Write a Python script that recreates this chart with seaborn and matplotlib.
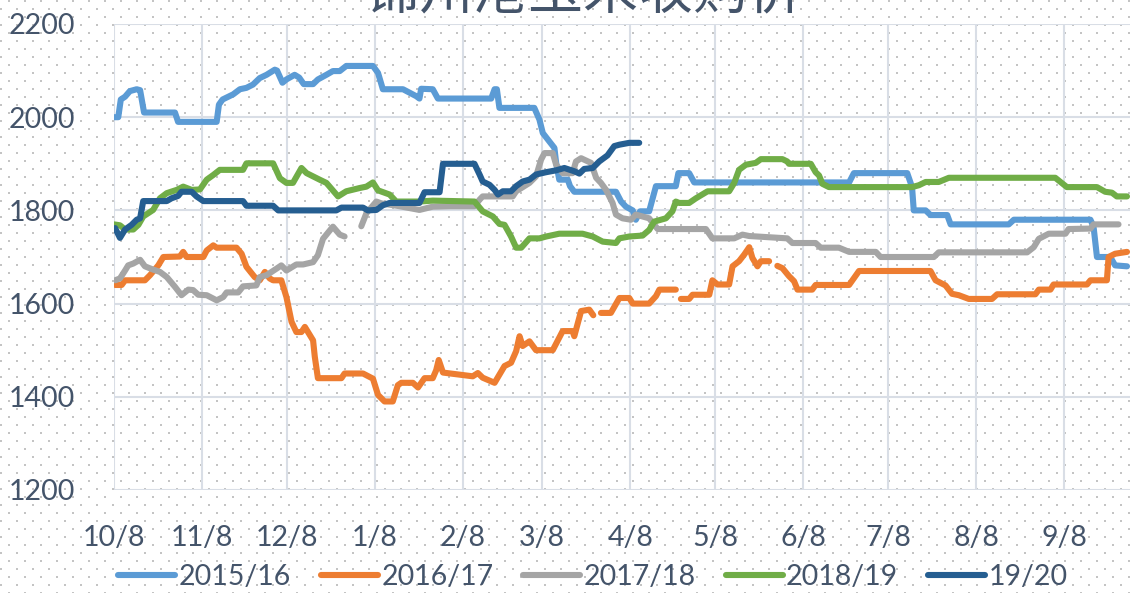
import numpy as np
import pandas as pd
import matplotlib
matplotlib.use("Agg")
import matplotlib.pyplot as plt
from matplotlib.lines import Line2D
import seaborn as sns

# ---------------- data ----------------
TITLE = "锦州港玉米收购价"
SEASONS = ["2015/16", "2016/17", "2017/18", "2018/19", "19/20"]
COLORS = ["#5B9BD5", "#ED7D31", "#A5A5A5", "#70AD47", "#255E91"]
TICK_DATES = ["2018-10-08", "2018-11-08", "2018-12-08", "2019-01-08", "2019-02-08",
              "2019-03-08", "2019-04-08", "2019-05-08", "2019-06-08", "2019-07-08",
              "2019-08-08", "2019-09-08"]
TICK_LABELS = ["10/8", "11/8", "12/8", "1/8", "2/8", "3/8", "4/8", "5/8", "6/8",
               "7/8", "8/8", "9/8"]
Y_TICKS = [1200, 1400, 1600, 1800, 2000, 2200]

# (days after 10/8, price); None marks a gap in the series
S_2015_16 = [(0, 2000), (1.5, 2000), (2.4, 2038), (3.9, 2044), (5.6, 2056), (8, 2060),
             (9.2, 2058), (10.6, 2010), (21.5, 2010), (22.6, 1990), (36.2, 1990), (37, 2027),
             (38.3, 2038), (42, 2049), (44.4, 2060), (46.7, 2063), (49, 2070), (51.4, 2084),
             (53.8, 2091), (56.7, 2102), (57.5, 2100), (59.4, 2074), (60.8, 2081), (63.7, 2091),
             (65.3, 2085), (66.9, 2071), (70.2, 2071), (71.9, 2081), (74.9, 2091), (77.2, 2099),
             (79.6, 2099), (81.9, 2110), (91.3, 2110), (93.1, 2095), (94.8, 2060), (101.9, 2060),
             (106.6, 2045), (107.7, 2040), (108.3, 2061), (112.4, 2060), (114.2, 2040),
             (133, 2040), (134.2, 2060), (135, 2060), (135.9, 2020), (148.2, 2020), (150, 1995),
             (151.2, 1966), (153.5, 1948), (155.3, 1934), (155.9, 1902), (157, 1866),
             (160, 1866), (160.8, 1852), (162.3, 1840), (177, 1840), (178.8, 1819),
             (180.5, 1808), (182.9, 1800), (184, 1780), (185.5, 1798), (188.7, 1798),
             (191.1, 1852), (198.1, 1852), (199, 1880), (202.8, 1880), (204.6, 1860),
             (259.2, 1860), (260.9, 1880), (279.7, 1880), (281.4, 1850), (282, 1800),
             (286.2, 1800), (287.9, 1790), (293.8, 1790), (295, 1770), (315.5, 1770),
             (317.3, 1780), (344.3, 1780), (345.4, 1765), (346.6, 1700), (351.3, 1700),
             (353, 1682), (357.2, 1680)]

S_2016_17 = [(0.4, 1640), (2.7, 1640), (3.9, 1650), (10.9, 1650), (12.7, 1661), (15.6, 1682),
             (17.4, 1700), (23.2, 1701), (24.4, 1711), (25.6, 1700), (31.5, 1700), (32.7, 1714),
             (35, 1725), (36.2, 1720), (43.2, 1720), (45, 1707), (46.7, 1679), (49.6, 1657),
             (51.4, 1650), (53.2, 1668), (54.9, 1654), (56.1, 1650), (59, 1650), (60.8, 1614),
             (62.6, 1561), (64.3, 1539), (66.1, 1539), (67.3, 1550), (70.2, 1521), (70.8, 1486),
             (71.9, 1440), (80.2, 1440), (81.3, 1450), (87.8, 1450), (91.3, 1439), (93.1, 1404),
             (95.4, 1390), (98.3, 1390), (100.1, 1425), (101.3, 1430), (105.4, 1430),
             (107.2, 1420), (109.5, 1440), (112.4, 1440), (113.6, 1457), (114.5, 1479),
             (116, 1452), (126.5, 1444), (128.3, 1451), (130, 1441), (134.2, 1430),
             (137.7, 1466), (140, 1473), (141.8, 1498), (143, 1530), (144.1, 1509),
             (146.5, 1519), (148.8, 1500), (154.7, 1500), (158.2, 1541), (161.7, 1541),
             (162.3, 1530), (164.7, 1584), (167.6, 1587), (169, 1575), (None, None),
             (171.7, 1580), (175.2, 1580), (178.2, 1612), (181.7, 1612), (182.9, 1600),
             (188.7, 1600), (191.1, 1616), (192.3, 1630), (198.1, 1630), (None, None),
             (199.9, 1610), (202.8, 1610), (204, 1619), (209.9, 1619), (211, 1650),
             (212.8, 1641), (216.9, 1641), (218.1, 1680), (220.4, 1691), (222.2, 1705),
             (224, 1721), (225.1, 1698), (226.9, 1680), (228.1, 1691), (231, 1691), (None, None),
             (233.9, 1681), (235.7, 1676), (238, 1659), (239.8, 1648), (241, 1630),
             (246.2, 1630), (247.4, 1640), (259.2, 1640), (262.7, 1670), (287.9, 1670),
             (289.7, 1650), (293.2, 1639), (295.5, 1621), (297.9, 1618), (301.4, 1610),
             (309.6, 1610), (311.4, 1620), (324.9, 1620), (326.1, 1630), (330.2, 1630),
             (331.3, 1641), (343.1, 1641), (344.3, 1650), (350.1, 1650), (350.7, 1700),
             (353, 1707), (357.2, 1711)]

S_2017_18 = [(0.4, 1650), (2.1, 1654), (3.9, 1671), (5, 1682), (6.8, 1686), (9.2, 1694),
             (10.9, 1680), (13.8, 1673), (16.2, 1668), (18.6, 1657), (21.5, 1636), (23.8, 1618),
             (26.2, 1630), (27.9, 1629), (29.7, 1619), (32.7, 1618), (36.2, 1607), (38.5, 1614),
             (39.7, 1624), (43.8, 1624), (45.5, 1637), (50.2, 1639), (51.4, 1657), (53.8, 1661),
             (57.3, 1675), (59, 1682), (60.8, 1671), (64.3, 1684), (66.7, 1684), (70.2, 1689),
             (71.9, 1704), (73.7, 1739), (76.1, 1757), (77.2, 1765), (79.6, 1748), (81.3, 1744),
             (None, None),
             (87.2, 1766), (89, 1794), (92.5, 1819), (94.3, 1815), (100.7, 1809), (107.7, 1801),
             (112.4, 1808), (118.3, 1809), (127.1, 1809), (128.9, 1823), (130, 1830),
             (140.6, 1830), (141.8, 1841), (146.5, 1859), (148.8, 1873), (150.6, 1909),
             (151.8, 1923), (154.7, 1923), (155.9, 1898), (158.2, 1880), (161.7, 1880),
             (162.9, 1905), (164.7, 1912), (168.2, 1902), (170, 1870), (171.7, 1859),
             (173.5, 1844), (175.8, 1816), (177, 1791), (179.3, 1783), (182.3, 1780),
             (184, 1791), (188.7, 1783), (191.7, 1760), (208.7, 1760), (211, 1740),
             (218.7, 1740), (221.6, 1748), (224, 1745), (237.4, 1740), (239.2, 1730),
             (247.4, 1730), (249.2, 1720), (255.6, 1720), (259.2, 1711), (268.6, 1711),
             (270.3, 1700), (289.1, 1700), (290.8, 1710), (322, 1710), (324.3, 1721),
             (326.1, 1739), (329.6, 1750), (335.5, 1750), (336.6, 1760), (344.3, 1761),
             (345.4, 1770), (354.2, 1770)]

S_2018_19 = [(0, 1770), (2.1, 1768), (3.9, 1759), (6.8, 1759), (8.6, 1769), (10.3, 1787),
             (13.8, 1801), (16.2, 1826), (18.6, 1837), (22.1, 1844), (24.4, 1851), (27.4, 1844),
             (30.3, 1845), (32.7, 1866), (35, 1876), (37.3, 1887), (45.5, 1887), (46.7, 1901),
             (56.1, 1901), (58.5, 1869), (60.8, 1859), (63.1, 1859), (66.1, 1891), (67.9, 1880),
             (72.5, 1866), (74.9, 1859), (79, 1830), (81.9, 1841), (86.6, 1848), (89, 1851),
             (91.3, 1860), (93.1, 1843), (97.2, 1834), (99.5, 1819), (107.7, 1819),
             (112.4, 1821), (127.1, 1819), (130, 1798), (133.6, 1787), (135.9, 1771),
             (137.7, 1769), (140, 1744), (141.8, 1720), (143.6, 1720), (146.5, 1740),
             (150, 1740), (152.4, 1744), (157, 1750), (165.2, 1750), (168.8, 1744),
             (172.3, 1733), (177, 1730), (178.2, 1740), (181.7, 1744), (186.4, 1746),
             (188.7, 1758), (190.5, 1776), (194.6, 1783), (196.9, 1798), (198.1, 1819),
             (199.3, 1816), (202.8, 1816), (205.2, 1826), (209.3, 1841), (216.9, 1841),
             (218.7, 1859), (220.4, 1887), (222.8, 1898), (226.3, 1902), (228.1, 1910),
             (235.7, 1910), (237.4, 1905), (238, 1900), (245.7, 1900), (247.4, 1882),
             (248.6, 1875), (249.8, 1857), (252.1, 1850), (281.4, 1850), (283.8, 1854),
             (286.2, 1861), (290.8, 1861), (294.4, 1870), (331.9, 1870), (336, 1850),
             (346.6, 1850), (349.5, 1840), (351.9, 1838), (353.6, 1830), (357.2, 1830)]

S_19_20 = [(0.4, 1762), (2.1, 1741), (3.9, 1759), (6.2, 1769), (8, 1780), (9.2, 1783),
           (10.3, 1820), (18.6, 1820), (20.3, 1826), (22.6, 1831), (23.8, 1840), (27.4, 1840),
           (29.1, 1830), (31.5, 1820), (45.5, 1820), (46.7, 1810), (56.1, 1810), (57.9, 1800),
           (78.4, 1800), (80.2, 1806), (87.8, 1806), (89.5, 1800), (92.5, 1801), (94.8, 1811),
           (97.2, 1816), (107.7, 1816), (109.5, 1839), (114.8, 1839), (116, 1900),
           (127.1, 1900), (128.9, 1877), (130, 1862), (132.4, 1855), (134.2, 1844),
           (135.4, 1834), (137.1, 1841), (140, 1841), (141.8, 1852), (144.1, 1862),
           (146.5, 1866), (148.8, 1877), (152.4, 1882), (155.9, 1886), (158.8, 1891),
           (162.3, 1884), (164.1, 1879), (165.8, 1889), (168.8, 1891), (171.1, 1905),
           (174, 1918), (176.4, 1938), (178.2, 1941), (181.7, 1945), (185.2, 1945)]

SERIES = [S_2015_16, S_2016_17, S_2017_18, S_2018_19, S_19_20]

# ---------------- build long table ----------------
rows = []
for name, pts in zip(SEASONS, SERIES):
    seg = 0
    for d, v in pts:
        if v is None:
            seg += 1
            continue
        rows.append((name, f"{name}_{seg}", d, v))
df = pd.DataFrame(rows, columns=["season", "unit", "day", "price"])

# ---------------- style ----------------
sns.set_theme(style="white")
plt.rcParams["font.family"] = ["Lato", "DejaVu Sans"]
TXT = "#44546A"
GRID = "#D9DEE6"
LW = 4.4

W, H = 1130, 593
fig = plt.figure(figsize=(W / 100, H / 100), dpi=100)
fig.patch.set_facecolor("white")

# dotted background pattern
bg = fig.add_axes([0, 0, 1, 1], zorder=-10)
bg.set_xlim(0, W)
bg.set_ylim(H, 0)
bg.axis("off")
gy = np.arange(0.7, H, 8.0)
px, py = [], []
for i, yy in enumerate(gy):
    off = 9.0 if i % 2 == 0 else 1.0
    xx = np.arange(off, W, 16.0)
    px.extend(xx)
    py.extend([yy] * len(xx))
bg.scatter(px, py, s=1.1, marker="s", color="#C4C4C4", linewidths=0)

L, R, T, B = 114, W, 24, 490
PX_PER_DAY = 2.836
ax = fig.add_axes([L / W, 1 - B / H, (R - L) / W, (B - T) / H])
ax.patch.set_alpha(0)

sns.lineplot(data=df, x="day", y="price", hue="season", hue_order=SEASONS,
             palette=COLORS, units="unit", estimator=None, sort=False,
             linewidth=LW, ax=ax, legend=False)
for ln in ax.lines:
    ln.set_solid_capstyle("round")
    ln.set_solid_joinstyle("round")

base = pd.Timestamp(TICK_DATES[0])
tick_days = [(pd.Timestamp(d) - base).days for d in TICK_DATES]
ax.set_xlim(0, (R - L) / PX_PER_DAY)
ax.set_ylim(Y_TICKS[0], Y_TICKS[-1])
ax.set_xticks(tick_days)
ax.set_xticklabels(TICK_LABELS)
ax.set_yticks(Y_TICKS)
ax.set_yticklabels([str(v) for v in Y_TICKS])
ax.grid(True, color=GRID, linewidth=1.5)
ax.set_axisbelow(True)
for sp in ax.spines.values():
    sp.set_visible(False)
ax.tick_params(axis="both", length=0, labelsize=20.5, labelcolor=TXT)
ax.tick_params(axis="y", pad=28)
ax.tick_params(axis="x", pad=25)
ax.set_xlabel("")
ax.set_ylabel("")

# legend
handles = [Line2D([0], [0], color=c, linewidth=LW, solid_capstyle="round") for c in COLORS]
leg = fig.legend(handles, SEASONS, loc="center", bbox_to_anchor=(593 / W, 1 - 577 / H),
                 ncol=5, frameon=False, fontsize=20.5, handlelength=2.0,
                 handletextpad=0.12, columnspacing=1.05)
for t in leg.get_texts():
    t.set_color(TXT)

# title (mostly above the visible area, as in the reference)
fig.text(583 / W, 1 - 9 / H, TITLE, ha="center", va="baseline", fontsize=39.6,
         family=["Noto Sans CJK SC", "DejaVu Sans"], color=TXT)

fig.savefig("out.png", dpi=100)
